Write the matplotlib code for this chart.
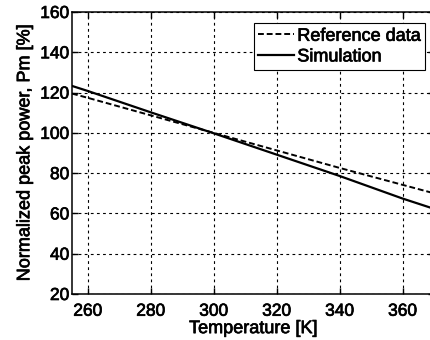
import matplotlib
matplotlib.use("Agg")
import matplotlib.pyplot as plt
import matplotlib.patheffects as pe

# values
temperature = [255, 260, 280, 300, 320, 340, 360, 370]
reference_data = [119.5, 117.4, 108.7, 100.0, 91.3, 82.6, 74.2, 70.0]
simulation = [123.3, 120.8, 110.2, 99.8, 89.2, 78.6, 67.4, 62.3]

x_ticks = [260, 280, 300, 320, 340, 360]
y_ticks = [20, 40, 60, 80, 100, 120, 140, 160]

plt.rcParams['font.family'] = ['Liberation Sans', 'DejaVu Sans']

fig = plt.figure(figsize=(4.31, 3.40), dpi=100)
ax = fig.add_axes([72 / 431, 1 - 294 / 340, (434 - 72) / 431, (294 - 12) / 340])

ax.plot(temperature, reference_data, color='black', linestyle=(0, (3, 1.5)), linewidth=1.4,
        label='Reference data')
ax.plot(temperature, simulation, color='black', linestyle='-', linewidth=1.6,
        label='Simulation')

ax.set_xlim(255, 370)
ax.set_ylim(20, 160)
ax.set_xticks(x_ticks)
ax.set_yticks(y_ticks)
ax.tick_params(direction='in', length=4, width=1, labelsize=12.5, top=True, right=True)
ax.tick_params(axis='x', pad=7)
ax.tick_params(axis='y', pad=2)

ax.grid(True, color='black', linestyle=(0, (2.5, 3)), linewidth=0.8)
for s in ax.spines.values():
    s.set_linewidth(1.1)

ax.set_xlabel('Temperature [K]', fontsize=13, labelpad=1)
ax.set_ylabel('Normalized peak power, Pm [%]', fontsize=13, labelpad=5)

leg = ax.legend(loc='upper right', bbox_to_anchor=(0.975, 0.96),
                prop={'size': 13}, fancybox=False, framealpha=1,
                edgecolor='black', handlelength=1.95, handletextpad=0.2,
                borderpad=0.25, labelspacing=0.2, borderaxespad=0)
leg.get_frame().set_linewidth(0.8)

# slightly heavier text, like the scanned original
thick = [pe.withStroke(linewidth=0.5, foreground='black')]
texts = ax.get_xticklabels() + ax.get_yticklabels() + leg.get_texts()
texts += [ax.xaxis.label, ax.yaxis.label]
for t in texts:
    t.set_path_effects(thick)

fig.savefig('out.png', dpi=100)
